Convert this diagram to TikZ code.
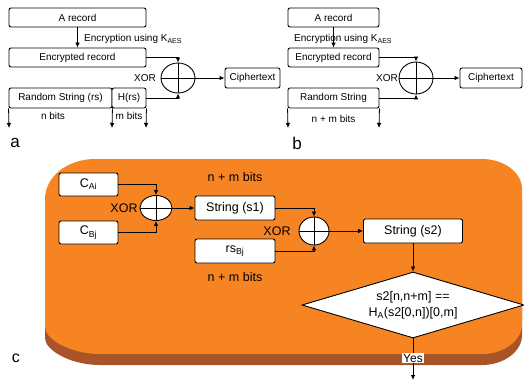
\documentclass[tikz,border=0pt]{standalone}
\usepackage{fontspec}
\setmainfont{Liberation Sans}
\usetikzlibrary{arrows.meta,shapes.geometric}
\definecolor{slab}{RGB}{246,132,34}
\definecolor{slabside}{RGB}{168,84,40}
\begin{document}
\begin{tikzpicture}[x=1pt,y=-1pt,
 box/.style={draw,line width=0.9pt,rounded corners=2pt,fill=white,inner sep=0pt,font=\fontsize{10}{12}\selectfont},
 cbox/.style={box,font=\fontsize{12.5}{15}\selectfont},
 xorc/.style={draw,ellipse,line width=0.9pt,fill=white,inner sep=0pt},
 conn/.style={line width=0.8pt,-{Latex[length=5pt,width=4.5pt]}},
 plain/.style={line width=0.8pt},
 lbl/.style={font=\fontsize{10}{12}\selectfont,inner sep=0pt},
 clbl/.style={font=\fontsize{12.5}{15}\selectfont,inner sep=0pt},
 panel/.style={font=\fontsize{17}{19}\selectfont,inner sep=0pt}]
\useasboundingbox (0,0) rectangle (524,381);
\fill[white] (0,0) rectangle (524,381);
% ---------- panel a ----------
\node[box,minimum width=137pt,minimum height=19pt] (arec) at (77.5,17.5) {A record};
\node[box,minimum width=137pt,minimum height=19pt] (aenc) at (77.5,57.5) {Encrypted record};
\node[box,minimum width=103pt,minimum height=20pt] (ars) at (60.5,98) {Random String (rs)};
\node[box,minimum width=34pt,minimum height=20pt] (ahrs) at (129,98) {H(rs)};
\node[xorc,minimum width=34pt,minimum height=30pt] (axor) at (178,78) {};
\draw[plain] (axor.north)--(axor.south) (axor.west)--(axor.east);
\node[box,minimum width=55pt,minimum height=20pt] (aciph) at (252.5,78) {Ciphertext};
\node[lbl,anchor=west] (aenct) at (84,39) {Encryption using K\textsubscript{AES}};
\node[lbl] (axort) at (145,78) {XOR};
\draw[conn] (arec.south) -- (aenc.north);
\draw[conn] (aenc.east) -| (axor.north);
\draw[conn] (ahrs.east) -| (axor.south);
\draw[conn] (axor.east) -- (aciph.west);
\coordinate (ad1) at (9,128);
\coordinate (ad2) at (112,128);
\coordinate (ad3) at (146,128);
\draw[conn] (ars.south west) -- (ad1);
\draw[conn] (ars.south east) -- (ad2);
\draw[conn] (ahrs.south east) -- (ad3);
\node[lbl] (anb) at (53,116) {n bits};
\node[lbl] (amb) at (129,116) {m bits};
\node[panel] (pa) at (15,143) {a};
% ---------- panel b ----------
\node[box,minimum width=91pt,minimum height=19pt] (brec) at (333.5,17.5) {A record};
\node[box,minimum width=91pt,minimum height=19pt] (benc) at (333.5,57.5) {Encrypted record};
\node[box,minimum width=91pt,minimum height=20pt] (brs) at (333.5,98) {Random String};
\node[xorc,minimum width=34pt,minimum height=32pt] (bxor) at (416,78) {};
\draw[plain] (bxor.north)--(bxor.south) (bxor.west)--(bxor.east);
\node[box,minimum width=62pt,minimum height=20pt] (bciph) at (491,78) {Ciphertext};
\node[lbl,anchor=west] (benct) at (294,39) {Encryption using K\textsubscript{AES}};
\node[lbl] (bxort) at (387,78) {XOR};
\draw[conn] (brec.south) -- (benc.north);
\draw[conn] (benc.east) -| (bxor.north);
\draw[conn] (brs.east) -| (bxor.south);
\draw[conn] (bxor.east) -- (bciph.west);
\coordinate (bd1) at (288,128);
\coordinate (bd2) at (379,128);
\draw[conn] (brs.south west) -- (bd1);
\draw[conn] (brs.south east) -- (bd2);
\node[lbl] (bnm) at (333.5,119) {n + m bits};
\node[panel] (pb) at (297,143) {b};
% ---------- panel c ----------
\fill[slabside,shift={(0,11)}] (45,199) .. controls (45,177) and (67,159) .. (95,159) -- (482,159) .. controls (504,159) and (522,172.5) .. (522,189) -- (522,324) .. controls (522,340.5) and (504,354) .. (482,354) -- (100,354) .. controls (70,354) and (45,339) .. (45,327) -- cycle;
\fill[slab] (45,199) .. controls (45,177) and (67,159) .. (95,159) -- (482,159) .. controls (504,159) and (522,172.5) .. (522,189) -- (522,324) .. controls (522,340.5) and (504,354) .. (482,354) -- (100,354) .. controls (70,354) and (45,339) .. (45,327) -- cycle;
\node[cbox,minimum width=59pt,minimum height=23pt] (cai) at (88.5,184.5) {C\textsubscript{Ai}};
\node[cbox,minimum width=59pt,minimum height=23pt] (cbj) at (88.5,232.5) {C\textsubscript{Bj}};
\node[xorc,minimum width=32pt,minimum height=25pt] (cx1) at (156,208) {};
\draw[plain] (cx1.north)--(cx1.south) (cx1.west)--(cx1.east);
\node[clbl] (cx1t) at (124,208) {XOR};
\node[cbox,minimum width=80pt,minimum height=24pt] (cs1) at (235,208) {String (s1)};
\node[cbox,minimum width=80pt,minimum height=24pt] (crs) at (235,251) {rs\textsubscript{Bj}};
\node[clbl] (cnm1) at (235,177) {n + m bits};
\node[clbl] (cnm2) at (235,277) {n + m bits};
\node[xorc,minimum width=30pt,minimum height=28pt] (cx2) at (314,231) {};
\draw[plain] (cx2.north)--(cx2.south) (cx2.west)--(cx2.east);
\node[clbl] (cx2t) at (277,231) {XOR};
\node[cbox,minimum width=99pt,minimum height=24pt] (cs2) at (413,231) {String (s2)};
\node[draw,diamond,fill=white,line width=0.9pt,minimum width=222pt,minimum height=66pt,aspect=3.36,inner sep=0pt,align=center,font=\fontsize{12.5}{16}\selectfont] (cd) at (413,305) {s2[n,n+m] ==\\H\textsubscript{A}(s2[0,n])[0,m]};
\draw[conn] (cai.east) -| (cx1.north);
\draw[conn] (cbj.east) -| (cx1.south);
\draw[conn] (cx1.east) -- (cs1.west);
\draw[conn] (cs1.east) -| (cx2.north);
\draw[conn] (crs.east) -| (cx2.south);
\draw[conn] (cx2.east) -- (cs2.west);
\draw[conn] (cs2.south) -- (cd.north);
\coordinate (cend) at (413,380);
\draw[conn] (cd.south) -- (cend);
\node[clbl,font=\fontsize{12}{14}\selectfont,fill=white,inner sep=1pt] (yes) at (413,358) {Yes};
\node[panel,font=\fontsize{16}{18}\selectfont] (pc) at (16,358) {c};
\end{tikzpicture}
\end{document}
